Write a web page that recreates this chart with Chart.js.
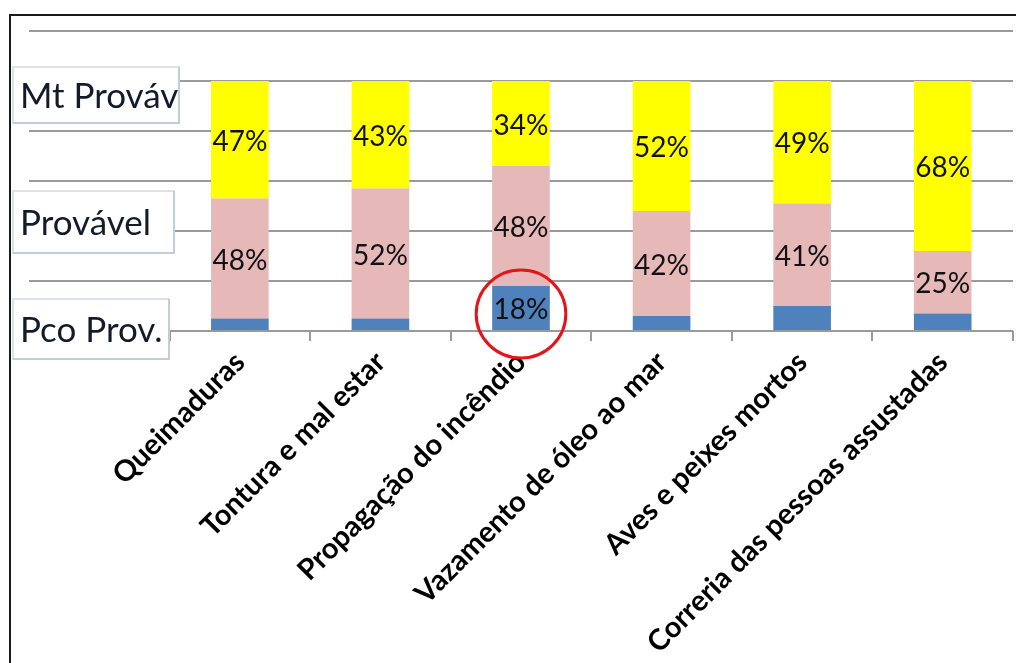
<!DOCTYPE html>
<html>
<head>
<meta charset="utf-8">
<script src="https://cdn.jsdelivr.net/npm/chart.js@4.4.1/dist/chart.umd.min.js"></script>
<style>
  html, body { margin: 0; padding: 0; background: #fff; }
  #wrap { position: relative; width: 1016px; height: 663px; }
</style>
</head>
<body>
<div id="wrap"><canvas id="chart"></canvas></div>
<script>
// first slot is left empty: it's the strip that holds the level boxes
const CATEGORIES = [
	'',
	'Queimaduras',
	'Tontura e mal estar',
	'Propagação do incêndio',
	'Vazamento de óleo ao mar',
	'Aves e peixes mortos',
	'Correria das pessoas assustadas',
]
const PCO_PROV = [null, 5, 5, 18, 6, 10, 7]
const PROVAVEL = [null, 48, 52, 48, 42, 41, 25]
const MT_PROVAV = [null, 47, 43, 34, 52, 49, 68]
const LEVEL_LABELS = ['Mt Prováv', 'Provável', 'Pco Prov.']

const FONT = 'Lato, "Open Sans", sans-serif'

const frame = {
	id: 'frame',
	beforeDraw (chart) {
		const ctx = chart.ctx
		ctx.save()
		ctx.fillStyle = '#fff'
		ctx.fillRect(0, 0, chart.width, chart.height)
		ctx.strokeStyle = '#1a1a1a'
		ctx.lineWidth = 2
		ctx.beginPath()
		ctx.moveTo(10, chart.height)
		ctx.lineTo(10, 15)
		ctx.lineTo(chart.width, 15)
		ctx.stroke()
		ctx.restore()
	},
}

// percent text centred in each segment, small ones left bare
const value_labels = {
	id: 'value_labels',
	afterDatasetsDraw (chart) {
		const ctx = chart.ctx
		ctx.save()
		ctx.font = `28px ${FONT}`
		ctx.fillStyle = '#111'
		ctx.textAlign = 'center'
		ctx.textBaseline = 'middle'
		chart.data.datasets.forEach(function (ds, di) {
			const meta = chart.getDatasetMeta(di)
			meta.data.forEach(function (bar, idx) {
				const v = ds.data[idx]
				if (v == null || v < 15) return
				ctx.fillText(v + '%', bar.x, (bar.y + bar.base) / 2 + 2)
			})
		})
		ctx.restore()
	},
}

const level_boxes = {
	id: 'level_boxes',
	afterDraw (chart) {
		const ctx = chart.ctx
		const boxes = [
			{ x: 12, y: 66, w: 168, h: 58 },
			{ x: 12, y: 190, w: 163, h: 64 },
			{ x: 12, y: 298, w: 158, h: 62 },
		]
		ctx.save()
		boxes.forEach(function (b, i) {
			ctx.fillStyle = '#fff'
			ctx.fillRect(b.x, b.y, b.w, b.h)
			ctx.strokeStyle = '#dce1ec'
			ctx.lineWidth = 2
			ctx.strokeRect(b.x + 1, b.y + 1, b.w - 2, b.h - 2)
			ctx.strokeStyle = '#c3cbdd'
			ctx.beginPath()
			ctx.moveTo(b.x + 1, b.y + b.h - 1)
			ctx.lineTo(b.x + b.w - 1, b.y + b.h - 1)
			ctx.lineTo(b.x + b.w - 1, b.y + 1)
			ctx.stroke()
			ctx.fillStyle = '#141a2a'
			ctx.font = `35px ${FONT}`
			ctx.textAlign = 'left'
			ctx.textBaseline = 'middle'
			ctx.fillText(LEVEL_LABELS[i], b.x + 8, b.y + b.h / 2 + 2)
		})
		ctx.restore()
	},
}

// hand-drawn style ring around the fire-spread "Pco Prov." segment
const ring = {
	id: 'ring',
	afterDraw (chart) {
		const bar = chart.getDatasetMeta(0).data[3]
		if (!bar) return
		const ctx = chart.ctx
		ctx.save()
		ctx.strokeStyle = '#e3141b'
		ctx.lineWidth = 3
		ctx.beginPath()
		ctx.ellipse(bar.x, (bar.y + bar.base) / 2 + 6, bar.width / 2 + 16, 44, 0, 0, Math.PI * 2)
		ctx.stroke()
		ctx.restore()
	},
}

new Chart(document.getElementById('chart'), {
	type: 'bar',
	data: {
		labels: CATEGORIES,
		datasets: [
			{ label: 'Pco Prov.', data: PCO_PROV, backgroundColor: '#4f81bd' },
			{ label: 'Provável', data: PROVAVEL, backgroundColor: '#e6b9b8' },
			{ label: 'Mt Prováv', data: MT_PROVAV, backgroundColor: '#ffff00' },
		],
	},
	options: {
		responsive: true,
		maintainAspectRatio: false,
		animation: false,
		datasets: {
			bar: { categoryPercentage: 1, barPercentage: 0.41, borderWidth: 0 },
		},
		layout: { padding: { left: 29, top: 31, right: 3, bottom: 0 } },
		plugins: {
			legend: { display: false },
			tooltip: { enabled: false },
		},
		scales: {
			x: {
				stacked: true,
				offset: true,
				grid: {
					offset: true,
					drawOnChartArea: false,
					drawTicks: true,
					tickLength: 10,
					color: '#9a9a9a',
					lineWidth: 2,
				},
				border: { display: false },
				ticks: {
					minRotation: 45,
					maxRotation: 45,
					autoSkip: false,
					padding: 4,
					color: '#000',
					font: { family: FONT, size: 29, weight: 'bold' },
				},
				afterFit (scale) {
					scale.height = 332
					scale.paddingRight = 0
				},
			},
			y: {
				stacked: true,
				min: 0,
				max: 120,
				ticks: { display: false, stepSize: 20 },
				grid: { color: '#9a9a9a', lineWidth: 2, drawTicks: false },
				border: { display: false },
				afterFit (scale) {
					scale.width = 0
				},
			},
		},
	},
	plugins: [frame, value_labels, level_boxes, ring],
})
</script>
</body>
</html>
